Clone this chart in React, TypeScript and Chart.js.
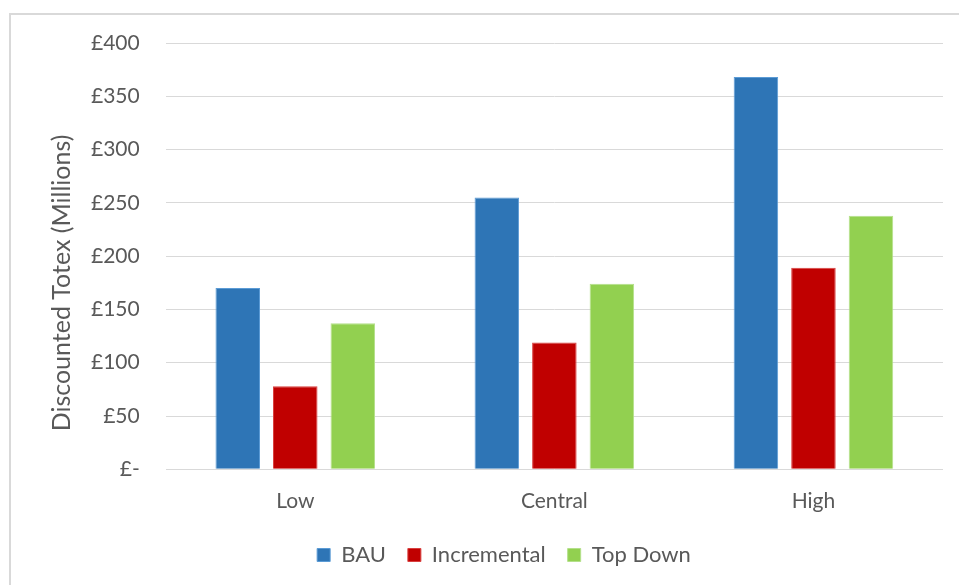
import React, { useEffect, useRef } from "react";
import { Chart, registerables } from "chart.js";

Chart.register(...registerables);

// Scenario categories and discounted totex per approach (£ millions)
const categories: string[] = ["Low", "Central", "High"];
const bauValues: number[] = [170, 255, 368];
const incrementalValues: number[] = [78, 119, 189];
const topDownValues: number[] = [137, 174, 238];
const seriesNames: string[] = ["BAU", "Incremental", "Top Down"];
const yTickStep = 50;
const yMax = 400;
const yTitle = "Discounted Totex (Millions)";

const FONT = "Lato, 'Open Sans', sans-serif";
const TEXT_COLOR = "#595959";

// Draws the rotated value-axis title centred beside the tick labels
const axisTitlePlugin = {
  id: "axisTitle",
  afterDraw(chart: any) {
    const { ctx } = chart;
    ctx.save();
    ctx.translate(62, 283);
    ctx.rotate(-Math.PI / 2);
    ctx.font = `25px ${FONT}`;
    ctx.fillStyle = TEXT_COLOR;
    ctx.textAlign = "center";
    ctx.textBaseline = "middle";
    ctx.fillText(yTitle, 0, 0);
    ctx.restore();
  },
};

export default function App() {
  const canvasRef = useRef<HTMLCanvasElement | null>(null);

  useEffect(() => {
    if (!canvasRef.current) return;
    const bar = (label: string, data: number[], fill: string, edge: string) => ({
      label,
      data,
      backgroundColor: fill,
      borderColor: edge,
      borderWidth: 1,
      categoryPercentage: 0.666,
      barPercentage: 0.774,
    });
    const chart = new Chart(canvasRef.current, {
      type: "bar",
      data: {
        labels: categories,
        datasets: [
          bar(seriesNames[0], bauValues, "#2E75B6", "#5B9BD5"),
          bar(seriesNames[1], incrementalValues, "#C00000", "#D9403F"),
          bar(seriesNames[2], topDownValues, "#92D050", "#B4E08A"),
        ],
      },
      options: {
        responsive: false,
        animation: false,
        layout: { padding: { left: 65, right: 16, top: 43, bottom: 0 } },
        plugins: {
          tooltip: { enabled: false },
          legend: {
            position: "bottom",
            labels: {
              boxWidth: 13,
              boxHeight: 13,
              padding: 22,
              color: TEXT_COLOR,
              font: { family: FONT, size: 22 },
            },
          },
        },
        scales: {
          x: {
            grid: { display: false },
            border: { display: false },
            ticks: {
              color: TEXT_COLOR,
              font: { family: FONT, size: 21 },
              padding: 11.5,
            },
            afterFit: (scale: any) => {
              scale.height -= 3.5;
            },
          },
          y: {
            min: 0,
            max: yMax,
            border: { display: false },
            grid: { color: "#d9d9d9", lineWidth: 1, drawTicks: false },
            ticks: {
              stepSize: yTickStep,
              padding: 26,
              color: TEXT_COLOR,
              font: { family: FONT, size: 21 },
              callback: (v: any) => (Number(v) === 0 ? "£-" : "£" + v),
            },
          },
        },
      },
      plugins: [axisTitlePlugin],
    });
    return () => chart.destroy();
  }, []);

  return (
    <div
      style={{
        position: "fixed",
        left: 0,
        top: 0,
        width: 959,
        height: 585,
        overflow: "hidden",
        background: "#ffffff",
      }}
    >
      <div
        style={{
          position: "absolute",
          left: 9,
          top: 13,
          width: 980,
          height: 620,
          borderTop: "2px solid #d9d9d9",
          borderLeft: "2px solid #d9d9d9",
        }}
      />
      <canvas
        ref={canvasRef}
        width={959}
        height={576}
        style={{ position: "absolute", left: 0, top: 0 }}
      />
    </div>
  );
}
